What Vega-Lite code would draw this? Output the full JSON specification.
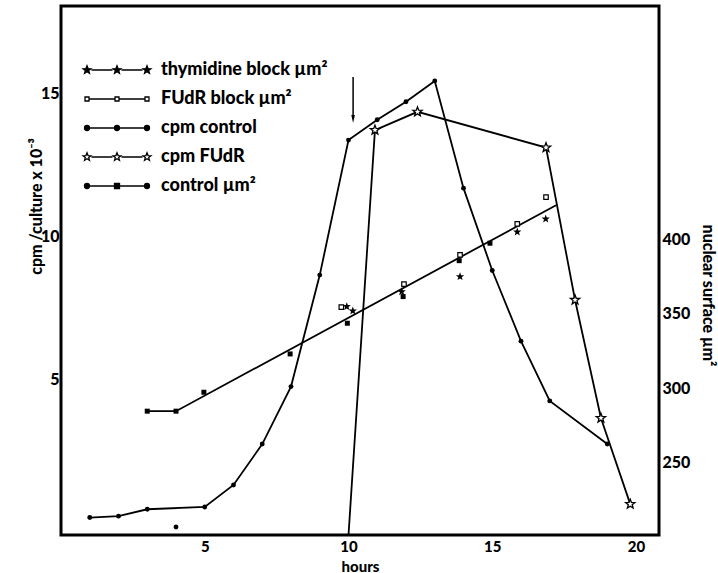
{
  "$schema": "https://vega.github.io/schema/vega-lite/v6.json",
  "width": 598,
  "height": 529,
  "autosize": {"type": "none"},
  "padding": {"left": 61, "top": 6, "right": 59, "bottom": 38},
  "background": "white",
  "config": {
    "view": {"stroke": "black", "strokeWidth": 3},
    "font": "Lato",
    "axis": {
      "labelFont": "Lato", "labelFontWeight": 900, "labelFontSize": 16, "labelColor": "black",
      "titleFont": "Lato", "titleFontWeight": 900, "titleFontSize": 16, "titleColor": "black",
      "domain": false, "grid": false, "tickColor": "black", "tickWidth": 1.5
    },
    "legend": {
      "orient": "none", "legendX": 45, "legendY": 53, "padding": 0,
      "symbolSize": 400, "symbolStrokeColor": "black", "symbolStrokeWidth": 1.3, "symbolOpacity": 1,
      "labelFont": "Lato", "labelFontWeight": 900, "labelFontSize": 18, "labelColor": "black",
      "labelOffset": 33, "rowPadding": 9, "labelLimit": 400
    }
  },
  "datasets": {
    "cpmControl": [
      {"hours": 1, "value": 0.33}, {"hours": 2, "value": 0.38}, {"hours": 3, "value": 0.62},
      {"hours": 5, "value": 0.70}, {"hours": 6, "value": 1.47}, {"hours": 7, "value": 2.90},
      {"hours": 8, "value": 4.91}, {"hours": 9, "value": 8.81}, {"hours": 10, "value": 13.53},
      {"hours": 11, "value": 14.24}, {"hours": 12, "value": 14.87}, {"hours": 13, "value": 15.6},
      {"hours": 14, "value": 11.85}, {"hours": 15, "value": 8.97}, {"hours": 16, "value": 6.50},
      {"hours": 17, "value": 4.41}, {"hours": 19, "value": 2.90}
    ],
    "cpmControlExtra": [{"hours": 4, "value": 0.0}],
    "cpmFudr": [
      {"hours": 10, "value": -0.28}, {"hours": 10.92, "value": 13.88}, {"hours": 12.4, "value": 14.52},
      {"hours": 16.87, "value": 13.27}, {"hours": 17.88, "value": 7.94}, {"hours": 18.78, "value": 3.81},
      {"hours": 19.8, "value": 0.80}
    ],
    "arrow": [{"hours": 10.16, "top": 15.74, "bottom": 14.27}],
    "legendEntries": [
      {"series": "thymidine block µm²"}, {"series": "FUdR block µm²"}, {"series": "cpm control"},
      {"series": "cpm FUdR"}, {"series": "control µm²"}
    ],
    "umControl": [
      {"hours": 3, "value": 288.1}, {"hours": 4, "value": 288.1}, {"hours": 4.97, "value": 300.8},
      {"hours": 7.97, "value": 326.5}, {"hours": 9.96, "value": 347.1}, {"hours": 11.9, "value": 365.0},
      {"hours": 13.85, "value": 389.1}, {"hours": 14.92, "value": 400.8}
    ],
    "umControlFit": [
      {"hours": 3, "value": 288.1}, {"hours": 4, "value": 288.1}, {"hours": 17.22, "value": 426.3}
    ],
    "umThymidine": [
      {"hours": 9.94, "value": 358.3}, {"hours": 10.15, "value": 355.4}, {"hours": 11.85, "value": 368.3},
      {"hours": 13.88, "value": 378.4}, {"hours": 15.87, "value": 408.4}, {"hours": 16.86, "value": 417.1}
    ],
    "umFudrBlock": [
      {"hours": 9.75, "value": 357.9}, {"hours": 11.93, "value": 373.3}, {"hours": 13.88, "value": 393.0},
      {"hours": 15.87, "value": 413.8}, {"hours": 16.87, "value": 431.7}
    ]
  },
  "layer": [
    {
      "layer": [
        {
          "data": {"name": "cpmControl"},
          "mark": {"type": "line", "color": "black", "strokeWidth": 1.8, "clip": true},
          "encoding": {
            "x": {"field": "hours", "type": "quantitative", "scale": {"domain": [0, 20.8], "nice": false, "zero": false},
                  "axis": {"values": [5, 10, 15, 20], "title": "hours", "tickSize": 0, "labelPadding": 4, "labelFontSize": 15, "titleFontSize": 15, "titleY": 31, "titleBaseline": "middle"}},
            "y": {"field": "value", "type": "quantitative", "scale": {"domain": [-0.28, 18.22], "nice": false, "zero": false},
                  "axis": {"orient": "left", "values": [5, 10, 15], "title": "cpm /culture x 10⁻³", "tickSize": 0, "labelPadding": 2, "labelBaseline": "alphabetic",
                           "titleAngle": -90, "titleX": -25, "titleY": 200, "titleBaseline": "middle", "titleAlign": "center"}}
          }
        },
        {
          "data": {"name": "cpmControl"},
          "mark": {"type": "point", "filled": true, "color": "black", "opacity": 1, "size": 24, "shape": "circle"},
          "encoding": {
            "x": {"field": "hours", "type": "quantitative"},
            "y": {"field": "value", "type": "quantitative"}
          }
        },
        {
          "data": {"name": "cpmControlExtra"},
          "mark": {"type": "point", "filled": true, "color": "black", "opacity": 1, "size": 24, "shape": "circle"},
          "encoding": {
            "x": {"field": "hours", "type": "quantitative"},
            "y": {"field": "value", "type": "quantitative"}
          }
        },
        {
          "data": {"name": "cpmFudr"},
          "mark": {"type": "line", "color": "black", "strokeWidth": 1.8, "clip": true},
          "encoding": {
            "x": {"field": "hours", "type": "quantitative"},
            "y": {"field": "value", "type": "quantitative"}
          }
        },
        {
          "data": {"name": "cpmFudr"},
          "transform": [{"filter": "datum.hours > 10"}],
          "mark": {"type": "point", "filled": true, "fill": "white", "stroke": "black", "strokeWidth": 1.3, "opacity": 1, "size": 95,
                   "shape": "M0,-1L0.247,-0.34L0.951,-0.309L0.4,0.13L0.588,0.809L0,0.42L-0.588,0.809L-0.4,0.13L-0.951,-0.309L-0.247,-0.34Z"},
          "encoding": {
            "x": {"field": "hours", "type": "quantitative"},
            "y": {"field": "value", "type": "quantitative"}
          }
        },
        {
          "data": {"name": "arrow"},
          "mark": {"type": "rule", "color": "black", "strokeWidth": 1.5},
          "encoding": {
            "x": {"field": "hours", "type": "quantitative"},
            "y": {"field": "top", "type": "quantitative"},
            "y2": {"field": "bottom"}
          }
        },
        {
          "data": {"name": "arrow"},
          "mark": {"type": "point", "filled": true, "color": "black", "opacity": 1, "size": 64, "shape": "M-0.45,-1L0.45,-1L0,1Z"},
          "encoding": {
            "x": {"field": "hours", "type": "quantitative"},
            "y": {"field": "bottom", "type": "quantitative"}
          }
        },
        {
          "data": {"name": "legendEntries"},
          "mark": {"type": "point", "filled": true, "stroke": "black", "strokeWidth": 1.3, "opacity": 0, "size": 400},
          "encoding": {
            "shape": {
              "field": "series", "type": "nominal",
              "scale": {
                "domain": ["thymidine block µm²", "FUdR block µm²", "cpm control", "cpm FUdR", "control µm²"],
                "range": [
                  "M-2.55,0H-0.45M0.45,0H2.55M-3,-0.42l0.106,0.274l0.293,0.016l-0.228,0.186l0.076,0.284l-0.247,-0.16l-0.247,0.16l0.076,-0.284l-0.228,-0.186l0.293,-0.016zM0,-0.42l0.106,0.274l0.293,0.016l-0.228,0.186l0.076,0.284l-0.247,-0.16l-0.247,0.16l0.076,-0.284l-0.228,-0.186l0.293,-0.016zM3,-0.42l0.106,0.274l0.293,0.016l-0.228,0.186l0.076,0.284l-0.247,-0.16l-0.247,0.16l0.076,-0.284l-0.228,-0.186l0.293,-0.016z",
                  "M-2.8,0H-0.2M0.2,0H2.8M-3.2,-0.2h0.4v0.4h-0.4zM-0.2,-0.2h0.4v0.4h-0.4zM2.8,-0.2h0.4v0.4h-0.4z",
                  "M-2.75,0H-0.25M0.25,0H2.75M-3.25,0a0.25,0.25 0 1,0 0.5,0a0.25,0.25 0 1,0 -0.5,0zM-0.25,0a0.25,0.25 0 1,0 0.5,0a0.25,0.25 0 1,0 -0.5,0zM2.75,0a0.25,0.25 0 1,0 0.5,0a0.25,0.25 0 1,0 -0.5,0z",
                  "M-2.55,0H-0.45M0.45,0H2.55M-3,-0.42l0.106,0.274l0.293,0.016l-0.228,0.186l0.076,0.284l-0.247,-0.16l-0.247,0.16l0.076,-0.284l-0.228,-0.186l0.293,-0.016zM0,-0.42l0.106,0.274l0.293,0.016l-0.228,0.186l0.076,0.284l-0.247,-0.16l-0.247,0.16l0.076,-0.284l-0.228,-0.186l0.293,-0.016zM3,-0.42l0.106,0.274l0.293,0.016l-0.228,0.186l0.076,0.284l-0.247,-0.16l-0.247,0.16l0.076,-0.284l-0.228,-0.186l0.293,-0.016z",
                  "M-2.75,0H-0.25M0.25,0H2.75M-3.25,0a0.25,0.25 0 1,0 0.5,0a0.25,0.25 0 1,0 -0.5,0zM-0.25,-0.25h0.5v0.5h-0.5zM2.75,0a0.25,0.25 0 1,0 0.5,0a0.25,0.25 0 1,0 -0.5,0z"
                ]
              },
              "legend": {"title": null, "encode": {"symbols": {"update": {"opacity": {"value": 1}}}}}
            },
            "fill": {
              "field": "series", "type": "nominal",
              "scale": {
                "domain": ["thymidine block µm²", "FUdR block µm²", "cpm control", "cpm FUdR", "control µm²"],
                "range": ["black", "white", "black", "white", "black"]
              },
              "legend": {"title": null, "encode": {"symbols": {"update": {"opacity": {"value": 1}}}}}
            }
          }
        }
      ]
    },
    {
      "layer": [
        {
          "data": {"name": "umControlFit"},
          "mark": {"type": "line", "color": "black", "strokeWidth": 1.8},
          "encoding": {
            "x": {"field": "hours", "type": "quantitative"},
            "y": {"field": "value", "type": "quantitative", "scale": {"domain": [205, 560], "nice": false, "zero": false},
                  "axis": {"orient": "right", "values": [250, 300, 350, 400], "title": "nuclear surface µm²", "tickSize": 0, "labelPadding": 3, "labelBaseline": "alphabetic",
                           "titleAngle": 90, "titleX": 48, "titleY": 289, "titleBaseline": "middle", "titleAlign": "center"}}
          }
        },
        {
          "data": {"name": "umControl"},
          "mark": {"type": "point", "filled": true, "color": "black", "opacity": 1, "size": 25, "shape": "square"},
          "encoding": {
            "x": {"field": "hours", "type": "quantitative"},
            "y": {"field": "value", "type": "quantitative"}
          }
        },
        {
          "data": {"name": "umThymidine"},
          "mark": {"type": "point", "filled": true, "color": "black", "opacity": 1, "size": 75,
                   "shape": "M0,-1L0.247,-0.34L0.951,-0.309L0.4,0.13L0.588,0.809L0,0.42L-0.588,0.809L-0.4,0.13L-0.951,-0.309L-0.247,-0.34Z"},
          "encoding": {
            "x": {"field": "hours", "type": "quantitative"},
            "y": {"field": "value", "type": "quantitative"}
          }
        },
        {
          "data": {"name": "umFudrBlock"},
          "mark": {"type": "point", "filled": true, "fill": "white", "stroke": "black", "strokeWidth": 1.2, "opacity": 1, "size": 20, "shape": "square"},
          "encoding": {
            "x": {"field": "hours", "type": "quantitative"},
            "y": {"field": "value", "type": "quantitative"}
          }
        }
      ]
    }
  ],
  "resolve": {"scale": {"y": "independent"}}
}
